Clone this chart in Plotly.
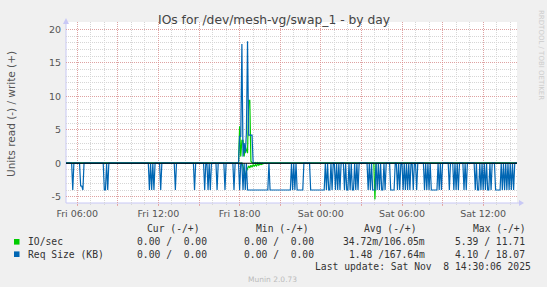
import plotly.graph_objects as go
import pandas as pd

# ---------------- data ----------------
START = "2025-11-07 05:00"          # first 5-minute sample
X_START = "2025-11-07 05:10"
X_END = "2025-11-08 14:30"
Y_MIN, Y_MAX = -5.94, 21.09

# Req Size read (KB), one string per hour, one char per 5-minute sample
# '.' = 0, '4' = 4.0, '3' = 3.4  (drawn on the negative side)
req_read_rows = [
    "........4...",  # Fri 05
    "...334......",  # Fri 06
    "............",  # Fri 07
    "44.4........",  # Fri 08
    "............",  # Fri 09
    "............",  # Fri 10
    "....4.4.4...",  # Fri 11
    "..4.........",  # Fri 12
    "...4........",  # Fri 13
    "........4...",  # Fri 14
    ".....4..4.4.",  # Fri 15
    "....4......4",  # Fri 16
    ".......4....",  # Fri 17
    "4..4.4.44444",  # Fri 18
    "444444444444",  # Fri 19
    "44.444444444",  # Fri 20
    "4444444444.4",  # Fri 21
    ".4.444444...",  # Fri 22
    "...444444444",  # Fri 23
    "4444.4.44.4.",  # Sat 00
    ".4.4.4...4.4",  # Sat 01
    "4.4.44.4.4..",  # Sat 02
    "......4.4.44",  # Sat 03
    "4.4.4.44.4..",  # Sat 04
    "..4444..4.4.",  # Sat 05
    ".4.4.4.4..4.",  # Sat 06
    ".4......4.4.",  # Sat 07
    "4.444444.4.4",  # Sat 08
    "......4...4.",  # Sat 09
    "4.4....4.4..",  # Sat 10
    ".....4.44.4.",  # Sat 11
    "4.4.44.4...4",  # Sat 12
    "4444.4.4.4.4",  # Sat 13
    ".4.4...",       # Sat 14
]
read_level = {".": 0.0, "4": 4.0, "3": 3.4}

# Friday evening write burst
burst_times = ["17:55", "18:00", "18:05", "18:10", "18:15", "18:20", "18:25",
               "18:30", "18:35", "18:40", "18:45", "18:50", "18:55", "19:00",
               "19:05", "19:10", "19:15", "19:20", "19:25", "19:30", "19:35",
               "19:40", "19:45", "19:50"]
req_write_burst = [0.0, 4.0, 4.0, 17.8, 1.0, 3.0, 1.5, 4.5, 18.2, 4.2, 4.2,
                   4.2, 4.2, 0.0, 0.0, 0.0, 0.0, 0.0, 0.0, 0.0, 0.0, 0.0,
                   0.0, 0.0]
io_write_burst = [0.0, 5.5, 1.0, 3.4, 3.4, 1.0, 2.5, 2.0, 1.5, 9.4, 9.4,
                  0.3, 0.1, 0.1, 0.0, 0.1, 0.0, 0.1, 0.0, 0.1, 0.0, 0.1,
                  0.0, 0.0]
io_read_burst = [0.0, 0.0, 0.0, 0.0, 0.5, 1.5, 2.0, 1.2, 0.6, 0.4, 0.7,
                 0.3, 0.6, 0.2, 0.5, 0.2, 0.4, 0.1, 0.3, 0.1, 0.2, 0.1,
                 0.1, 0.0]
io_read_extra_times = ["2025-11-08 04:00"]
io_read_extra_vals = [5.4]

tick_times = ["2025-11-07 06:00", "2025-11-07 09:00", "2025-11-07 12:00",
              "2025-11-07 15:00", "2025-11-07 18:00", "2025-11-07 21:00",
              "2025-11-08 00:00", "2025-11-08 03:00", "2025-11-08 06:00",
              "2025-11-08 09:00", "2025-11-08 12:00"]
tick_labels = ["Fri 06:00", "", "Fri 12:00", "", "Fri 18:00", "",
               "Sat 00:00", "", "Sat 06:00", "", "Sat 12:00"]
y_ticks = [-5, 0, 5, 10, 15, 20]

series_names = ["IO/sec", "Req Size (KB)"]
series_colors = ["#00CC00", "#0066B3"]
col_headers = ["Cur (-/+)", "Min (-/+)", "Avg (-/+)", "Max (-/+)"]
col_values = [
    ["0.00 /  0.00", "0.00 /  0.00", "34.72m/106.05m", "5.39 / 11.71"],
    ["0.00 /  0.00", "0.00 /  0.00", "1.48 /167.64m", "4.10 / 18.07"],
]
last_update = "Last update: Sat Nov  8 14:30:06 2025"
title = "IOs for /dev/mesh-vg/swap_1 - by day"
y_title = "Units read (-) / write (+)"

# ---------------- build series ----------------
pattern = "".join(req_read_rows)
times = pd.date_range(START, periods=len(pattern), freq="5min")
req_read = [read_level[c] for c in pattern]
n = len(times)
req_write = [0.0] * n
io_write = [0.0] * n
io_read = [0.0] * n
for t, a, b, c in zip(burst_times, req_write_burst, io_write_burst, io_read_burst):
    i = times.get_loc(pd.Timestamp("2025-11-07 " + t))
    req_write[i] = a
    io_write[i] = b
    io_read[i] = c
for t, v in zip(io_read_extra_times, io_read_extra_vals):
    io_read[times.get_loc(pd.Timestamp(t))] = v

# ---------------- layout geometry ----------------
W, H = 547, 287
L, R, T, B = 66, 517, 22, 203


def pxx(px):
    return (px - L) / (R - L)


def pxy(py):
    return (B - py) / (B - T)


fig = go.Figure()
fig.add_trace(go.Scatter(x=times, y=[-v for v in io_read], mode="lines",
                         line=dict(color=series_colors[0], width=1.2), hoverinfo="skip"))
fig.add_trace(go.Scatter(x=times, y=io_write, mode="lines",
                         line=dict(color=series_colors[0], width=1.2), hoverinfo="skip"))
fig.add_trace(go.Scatter(x=times, y=[-v for v in req_read], mode="lines",
                         line=dict(color=series_colors[1], width=1.2), hoverinfo="skip"))
fig.add_trace(go.Scatter(x=times, y=req_write, mode="lines",
                         line=dict(color=series_colors[1], width=1.2), hoverinfo="skip"))

MAJ = "rgba(230,120,120,0.55)"
MIN = "#D6D6D6"
TICKFONT = dict(family="DejaVu Sans", size=9.5, color="#555555")

fig.update_xaxes(
    range=[X_START, X_END], tickmode="array", tickvals=tick_times, ticktext=tick_labels,
    showgrid=True, gridcolor=MAJ, griddash="1px,1px", gridwidth=1,
    ticks="outside", ticklen=2, tickcolor=MAJ, tickfont=TICKFONT,
    showline=False, zeroline=False,
    minor=dict(tick0="2025-11-07 00:00", dtick=3600000, showgrid=True,
               gridcolor=MIN, griddash="1px,1px", ticks="outside", ticklen=1, tickcolor=MIN),
)
fig.update_yaxes(
    range=[Y_MIN, Y_MAX], tickmode="array", tickvals=y_ticks, ticktext=[str(v) for v in y_ticks],
    showgrid=True, gridcolor=MAJ, griddash="1px,1px", gridwidth=1,
    ticks="outside", ticklen=2, tickcolor="rgba(0,0,0,0)", tickfont=TICKFONT,
    showline=False, zeroline=False,
    minor=dict(dtick=1, showgrid=True, gridcolor=MIN, griddash="1px,1px"),
)

AX = "#C8C8F5"
shapes = [
    # axes
    dict(type="line", xref="paper", yref="paper", x0=0, x1=pxx(520), y0=0, y1=0,
         line=dict(color=AX, width=1), layer="between"),
    dict(type="line", xref="paper", yref="paper", x0=0, x1=0, y0=0, y1=pxy(20),
         line=dict(color=AX, width=1), layer="between"),
    dict(type="path", xref="paper", yref="paper",
         path=f"M {pxx(519)} {pxy(200)} L {pxx(524)} {pxy(203)} L {pxx(519)} {pxy(206)} Z",
         fillcolor=AX, line=dict(width=0)),
    dict(type="path", xref="paper", yref="paper",
         path=f"M {pxx(63)} {pxy(24)} L {pxx(66)} {pxy(18)} L {pxx(69)} {pxy(24)} Z",
         fillcolor=AX, line=dict(width=0)),
    # zero line
    dict(type="line", xref="paper", yref="y", x0=0, x1=1, y0=0, y1=0,
         line=dict(color="#000000", width=1), layer="above"),
]
# legend squares
for k, col in enumerate(series_colors):
    yc = [241.8, 254.2][k]
    shapes.append(dict(type="rect", xref="paper", yref="paper",
                       x0=pxx(14), x1=pxx(19.5), y0=pxy(yc - 2.8), y1=pxy(yc + 2.8),
                       fillcolor=col, line=dict(width=0)))

NB = "\u00a0"
MONO = dict(family="DejaVu Sans Mono", size=9.7, color="#333333")
ann = []


def add_text(text, px, py, xa="left", font=None, angle=0):
    ann.append(dict(text=text.replace(" ", NB), x=pxx(px), y=pxy(py), xref="paper", yref="paper",
                    xanchor=xa, yanchor="middle", showarrow=False, font=font or MONO,
                    textangle=angle))


add_text(title, 273.5, 19.5, "center", dict(family="DejaVu Sans", size=12.3, color="#444444"))
add_text(y_title, 11, 114, "center", dict(family="DejaVu Sans", size=10.5, color="#555555"), -90)
add_text("RRDTOOL / TOBI OETIKER", 541, 55, "center",
         dict(family="DejaVu Sans", size=7, color="#CCCCCC"), 90)

header_centers = [173.5, 282.2, 390.3, 499.1]
for h, cx in zip(col_headers, header_centers):
    add_text(h, cx, 228.5, "center")
value_right = [209.3, 315.7, 427.3, 526.7]
for k, name in enumerate(series_names):
    yc = [241.8, 254.2][k]
    add_text(name, 26.2, yc, "left")
    for v, rx in zip(col_values[k], value_right):
        add_text(v, rx, yc, "right")
add_text(last_update, 532.8, 266.5, "right")
add_text("Munin 2.0.73", 272, 279.5, "center", dict(family="DejaVu Sans", size=7.5, color="#BBBBBB"))

fig.update_layout(
    width=W, height=H, showlegend=False,
    margin=dict(l=L, r=W - R, t=T, b=H - B, pad=0),
    paper_bgcolor="#F0F0F0", plot_bgcolor="#FFFFFF",
    shapes=shapes, annotations=ann,
)

fig.write_html("out.html")
